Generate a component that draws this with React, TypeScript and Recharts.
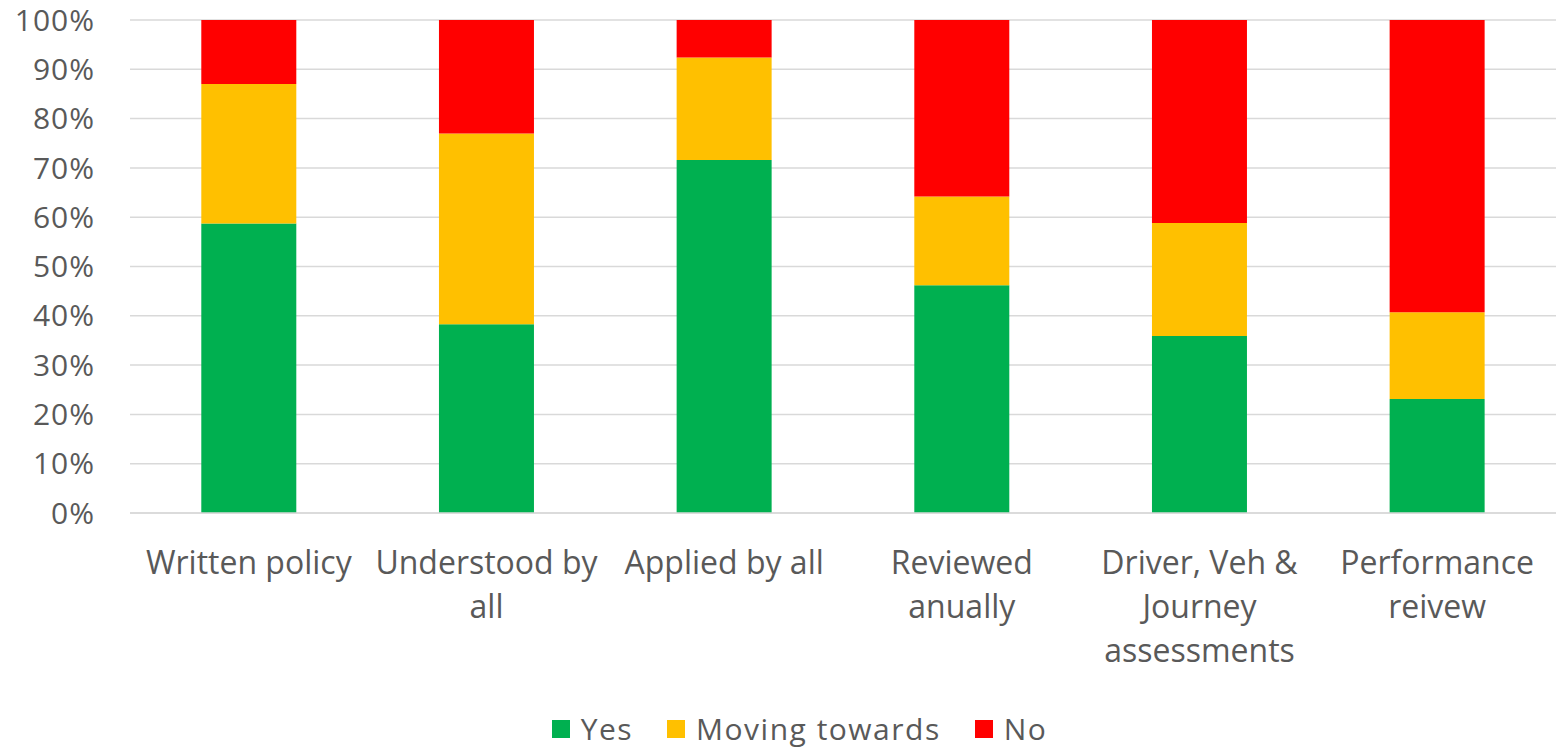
import React from 'react';
import { BarChart, Bar, XAxis, YAxis, CartesianGrid, Legend } from 'recharts';

// each category label, already broken into the lines it is drawn on
const categoryLines = [
  ['Written policy'],
  ['Understood by', 'all'],
  ['Applied by all'],
  ['Reviewed', 'anually'],
  ['Driver, Veh &', 'Journey', 'assessments'],
  ['Performance', 'reivew'],
];
const yesPct = [58.7, 38.3, 71.6, 46.2, 35.9, 23.1];
const movingPct = [28.3, 38.7, 20.8, 18.0, 22.9, 17.6];
const noPct = [13.0, 23.0, 7.6, 35.8, 41.2, 59.3];
const yTicks = [0, 10, 20, 30, 40, 50, 60, 70, 80, 90, 100];
const seriesNames = ['Yes', 'Moving towards', 'No'];

const data = categoryLines.map((lines, i) => ({
  name: lines.join('\n'),
  yes: yesPct[i],
  moving: movingPct[i],
  no: noPct[i],
}));

const FONT = '"Open Sans", sans-serif';
const GREY = '#595959';

const CategoryTick = (props: any) => {
  const { x, y, payload } = props;
  const lines = String(payload.value).split('\n');
  return (
    <text x={x} y={y} textAnchor="middle" fill={GREY} style={{ fontFamily: FONT, fontSize: 32 }}>
      {lines.map((line, i) => (
        <tspan key={i} x={x} dy={i === 0 ? 23 : 44}>
          {line}
        </tspan>
      ))}
    </text>
  );
};

const LegendContent = (props: any) => {
  const items = [...props.payload].sort(
    (a: any, b: any) => seriesNames.indexOf(a.value) - seriesNames.indexOf(b.value)
  );
  return (
    <div
      style={{
        display: 'flex',
        justifyContent: 'center',
        alignItems: 'center',
        marginTop: 5,
        paddingLeft: 43,
        fontFamily: FONT,
        fontSize: 30,
        letterSpacing: 1.5,
        color: GREY,
      }}
    >
      {items.map((p: any, i: number) => (
        <div
          key={p.value}
          style={{ display: 'flex', alignItems: 'center', marginRight: i < items.length - 1 ? 34 : 0 }}
        >
          <span style={{ width: 18, height: 18, background: p.color, marginRight: 11, display: 'inline-block' }} />
          <span>{p.value}</span>
        </div>
      ))}
    </div>
  );
};

export default function App() {
  return (
    <div style={{ position: 'fixed', left: 0, top: 0, background: '#fff' }}>
      <BarChart
        width={1559}
        height={749}
        data={data}
        margin={{ top: 20, right: 3, left: 0, bottom: 0 }}
        barCategoryGap="30%"
      >
        <CartesianGrid vertical={false} stroke="#d9d9d9" strokeWidth={1.5} />
        <XAxis
          dataKey="name"
          axisLine={{ stroke: '#d9d9d9', strokeWidth: 1.5 }}
          tickLine={false}
          tickSize={0}
          tickMargin={38}
          height={190}
          interval={0}
          tick={<CategoryTick />}
        />
        <YAxis
          width={130}
          domain={[0, 100]}
          ticks={yTicks}
          tickFormatter={(v: number) => `${v}%`}
          axisLine={false}
          tickLine={false}
          tickSize={0}
          tickMargin={35}
          tick={{ fill: GREY, fontSize: 30, fontFamily: FONT, letterSpacing: 1 }}
        />
        <Legend verticalAlign="bottom" content={<LegendContent />} wrapperStyle={{ height: 46 }} />
        <Bar dataKey="yes" name="Yes" stackId="a" fill="#00B050" isAnimationActive={false} />
        <Bar dataKey="moving" name="Moving towards" stackId="a" fill="#FFC000" isAnimationActive={false} />
        <Bar dataKey="no" name="No" stackId="a" fill="#FF0000" isAnimationActive={false} />
      </BarChart>
    </div>
  );
}
